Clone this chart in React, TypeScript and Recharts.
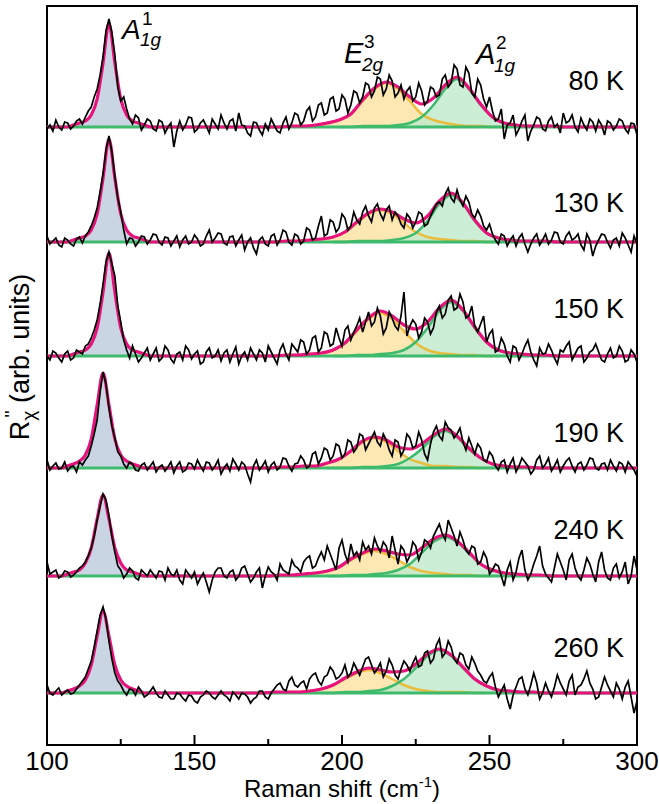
import { ComposedChart, Area, Line, XAxis, YAxis, ReferenceArea } from 'recharts';

// Raman spectra, one panel per temperature, stacked with a vertical offset
const temperatures = ['80 K', '130 K', '150 K', '190 K', '240 K', '260 K'];
const offsets = [566, 451, 337, 225, 117, 0];
const majorTicks = [100, 150, 200, 250, 300];
const allTicks = [100, 125, 150, 175, 200, 225, 250, 275, 300];

// raman shift grid of the measured spectra, 1 cm-1 steps from 99 to 301
const shifts = Array.from({ length: 203 }, (_, i) => 99 + i);

// measured intensity, relative to each panel baseline (10 points per row)
const spec80 = [
  6, -2, 2, -4, 7, 0, -3, 5, 4, -2,
  1, 6, 8, 3, 10, 16, 20, 30, 38, 52,
  70, 96, 108, 94, 72, 40, 26, 30, 18, 8,
  3, 12, 9, -3, 2, 8, 6, -2, -4, 7,
  5, -6, 0, 4, -20, -4, 6, -3, 2, 10,
  9, -5, -2, 4, 7, 1, -6, 8, 3, -2,
  12, 4, -2, 6, 8, -4, 14, 2, 1, -6,
  -9, 5, 4, -3, -8, 3, -3, 8, 2, -4,
  -6, 4, 10, -2, 4, 14, 12, 2, 6, 16,
  20, 6, 10, 22, 24, 12, 14, 28, 30, 16,
  18, 32, 28, 14, 22, 36, 34, 24, 30, 44,
  42, 30, 36, 50, 48, 32, 38, 52, 46, 30,
  34, 42, 28, 36, 40, 26, 30, 44, 36, 22,
  26, 40, 38, 30, 32, 48, 52, 40, 44, 62,
  58, 42, 40, 60, 54, 34, 30, 48, 42, 28,
  20, 30, 16, 6, 8, 18, -12, 2, 4, 12,
  -8, -2, 6, 12, -14, -4, 2, 10, 8, -2,
  -4, 6, 10, 0, 3, -6, 14, 4, 6, 12,
  0, -5, 9, 2, -3, 8, 5, -4, 7, 2,
  -8, 6, 4, -3, 1, 8, 6, -2, -6, 4,
  3, -8, -4,
];
const spec130 = [
  3, 6, -2, 1, 4, -3, -5, 4, 2, -2,
  -4, 3, 5, -1, 6, 10, 16, 24, 34, 50,
  68, 92, 106, 90, 66, 44, 30, 12, -2, 4,
  3, -4, 0, 6, 5, -2, 2, 8, 7, 0,
  -3, 5, 4, -4, 1, 6, -5, 2, 6, -2,
  0, 7, 3, -4, -2, 6, 12, 0, 4, 9,
  8, -1, -3, 5, 6, -4, 2, 7, -8, 0,
  4, -6, -12, 2, 5, -2, -4, 6, 8, -3,
  2, 12, 10, 0, -3, 8, 6, -2, 1, 14,
  12, 2, 4, 16, 26, 6, 8, 22, 20, 10,
  14, 28, 24, 12, 16, 30, 22, 18, 30, 36,
  26, 20, 34, 38, 28, 22, 32, 36, 22, 30,
  26, 18, 14, 28, 24, 14, 20, 30, 28, 16,
  18, 26, 32, 38, 40, 36, 48, 54, 44, 40,
  52, 42, 36, 46, 40, 28, 24, 32, 26, 16,
  12, 18, 8, 2, -2, 8, 6, -4, 2, 6,
  -4, 4, 8, -2, -10, -2, 4, 8, -3, 2,
  8, -2, 2, 10, 9, 0, -2, 6, 10, 2,
  4, 8, -3, -8, 8, 2, -14, -4, 2, 8,
  7, 0, -6, 2, 4, -4, 9, 4, -3, -10,
  6, -2, -20,
];
const spec150 = [
  6, 0, -4, 5, 3, -2, -6, 2, 5, -4,
  -2, 6, 4, 2, 10, 12, 18, 26, 36, 52,
  72, 94, 104, 92, 80, 50, 34, 16, 6, -2,
  10, 2, -6, -2, 3, 8, -4, 2, 8, -5,
  -2, 10, 6, -3, -7, 2, 4, -4, 10, 6,
  -3, 2, 5, -8, -6, 4, 8, -2, 0, 6,
  -5, 3, 6, -6, 2, 9, -8, 0, 4, -4,
  8, 2, -4, 6, 3, -6, 10, 4, -2, -8,
  6, 12, 2, -4, 12, 8, 4, 16, 14, 2,
  6, 18, 20, 4, 8, 24, 22, 10, 12, 28,
  18, 10, 26, 30, 16, 24, 30, 38, 24, 34,
  44, 30, 34, 48, 40, 22, 28, 44, 38, 30,
  26, 40, 64, 20, 30, 36, 32, 18, 24, 38,
  34, 22, 28, 44, 50, 38, 42, 56, 60, 46,
  48, 62, 54, 38, 40, 50, 30, 24, 32, 40,
  14, 22, 26, 4, 6, 18, 12, 0, -6, 10,
  8, -4, 2, 10, 16, 4, -4, -10, 8, 2,
  3, 12, 6, -2, -8, 6, 4, 10, 14, -4,
  2, 8, 10, -6, -2, 4, 6, 12, 4, -4,
  -6, 2, 8, -2, 0, 10, 5, -6, -4, 6,
  2, -6, -10,
];
const spec190 = [
  4, 8, -2, 2, 5, -1, 0, 6, -3, 1,
  2, -4, 6, 3, 8, 12, 22, 34, 48, 76,
  96, 84, 60, 42, 30, 16, 12, 4, 0, 6,
  4, -2, -3, 3, 5, -2, 2, 6, -4, 1,
  3, -3, 1, 6, -5, 2, 6, -4, -2, 5,
  4, -1, 8, 2, -3, 6, 5, -2, 2, 8,
  -6, 0, 4, -3, 9, 4, -2, 6, 3, -6,
  -14, 2, 8, -2, 2, 7, -4, 3, 6, -2,
  1, 10, 9, 2, -3, 4, 5, 12, 8, 0,
  2, 14, 16, 4, 10, 20, 18, 8, 12, 24,
  22, 10, 14, 28, 26, 16, 20, 34, 32, 18,
  24, 30, 36, 26, 22, 34, 28, 18, 12, 28,
  26, 12, 18, 34, 30, 20, 22, 36, 28, 14,
  8, 24, 36, 42, 32, 28, 46, 40, 38, 30,
  34, 40, 26, 18, 30, 22, 14, 24, 20, 8,
  6, 16, 12, 2, -2, 6, 8, -4, 4, 10,
  -4, 2, 10, 6, 2, -6, -2, 8, 12, 0,
  4, 10, -3, 2, 8, -4, 2, 7, 10, 2,
  -4, 4, 6, -2, 3, 10, 9, 0, -2, 4,
  5, -2, 8, 2, -3, 6, 4, -4, 6, 2,
  -2, -8, -16,
];
const spec240 = [
  10, 14, 2, 4, 6, -2, 0, 5, 4, -1,
  1, 4, 8, 10, 14, 20, 28, 40, 56, 70,
  82, 76, 60, 40, 24, 10, 6, -2, 2, 8,
  5, -2, -4, 6, 3, 0, 6, 2, -2, 5,
  4, -4, 8, 2, 0, 6, -4, -8, 6, 2,
  -2, 4, -8, -2, 3, -6, -16, -4, 4, 8,
  8, 0, -2, 4, 6, -4, 0, 8, 10, 2,
  -6, -2, 4, 8, -12, 0, 9, 4, 2, -4,
  12, 6, 4, 2, 16, 10, 8, 4, 14, 18,
  20, 8, 10, 18, 24, 16, 30, 22, 14, 6,
  28, 36, 22, 14, 32, 20, 24, 16, 34, 26,
  30, 22, 38, 30, 24, 34, 30, 18, 40, 26,
  12, 30, 26, 14, 20, 34, 30, 16, 24, 36,
  34, 28, 40, 46, 52, 42, 36, 56, 48, 40,
  30, 44, 36, 26, 22, 30, 28, 12, 14, 24,
  18, 2, 6, 12, 10, 0, -10, 6, 14, -4,
  4, 18, 26, 6, -4, 2, 12, 20, 30, 10,
  2, -2, -6, 8, 22, 14, 6, -4, 16, 22,
  8, 0, -4, 6, 18, 12, 2, -6, 14, 24,
  6, -2, -4, 8, 12, -2, 4, 14, -8, 0,
  20, 6, -22,
];
const spec260 = [
  4, 8, 0, -2, 2, 5, -2, 1, 3, -1,
  0, 4, 8, 12, 16, 24, 32, 46, 62, 78,
  86, 74, 52, 34, 20, 12, 8, 2, -2, 4,
  3, -2, 6, 2, -4, -2, 2, 6, 0, -4,
  -5, 2, -2, -6, -6, 0, -1, -5, -8, -2,
  -3, -8, -10, -4, -2, 2, 0, -4, -6, -2,
  2, -2, -4, -8, 1, -2, -6, 0, -1, -4,
  -10, -6, -4, 2, 2, -4, -6, 0, 4, 8,
  10, 4, 2, 12, 16, 8, 6, 10, 12, 4,
  14, 18, 20, 12, 8, 16, 18, 26, 22, 14,
  16, 20, 28, 16, 20, 30, 24, 18, 26, 34,
  36, 28, 20, 24, 30, 16, 22, 34, 28, 18,
  14, 24, 32, 28, 22, 30, 36, 26, 28, 40,
  42, 30, 34, 48, 54, 36, 40, 52, 46, 34,
  30, 40, 38, 28, 24, 36, 30, 22, 18, 12,
  10, 16, 20, 6, -4, 2, 8, -6, -16, -2,
  6, 14, 16, 4, -2, 8, 20, 10, -6, 0,
  10, 2, -4, 6, 18, 10, 4, -2, 12, 18,
  -2, 6, 8, 14, 22, 10, 4, -6, -4, 6,
  16, 8, 2, -4, 10, 4, -6, 6, 12, -4,
  -20, -8, -30,
];
const spectra = [spec80, spec130, spec150, spec190, spec240, spec260];

// fitted A1g(1) mode, sampled every 2 cm-1 from center-12 to center+12
const a1g1Centers = [121, 121, 121, 119, 119, 119];
const a1g1Fit = [
  [2, 4, 6, 12, 28, 64, 104, 64, 28, 12, 6, 4, 2],
  [2, 4, 6, 12, 28, 64, 103, 64, 28, 12, 6, 4, 2],
  [2, 4, 6, 12, 28, 64, 103, 64, 28, 12, 6, 4, 2],
  [2, 4, 7, 13, 29, 63, 95, 63, 29, 13, 7, 4, 2],
  [2, 4, 6, 13, 28, 57, 81, 57, 28, 13, 6, 4, 2],
  [2, 4, 7, 13, 28, 57, 82, 57, 28, 13, 7, 4, 2],
];

// fitted E2g(3) mode, sampled every 4 cm-1 from center-40 to center+40
const e2gCenters = [215, 213, 213, 211, 211, 209];
const e2gFit = [
  [0, 0, 1, 1, 2, 4, 7, 13, 26, 38, 44, 38, 26, 13, 7, 4, 2, 1, 1, 0, 0],
  [0, 0, 1, 1, 2, 3, 5, 10, 19, 28, 32, 28, 19, 10, 5, 3, 2, 1, 1, 0, 0],
  [0, 0, 1, 1, 2, 3, 6, 13, 25, 37, 43, 37, 25, 13, 6, 3, 2, 1, 1, 0, 0],
  [0, 0, 1, 1, 2, 2, 5, 9, 17, 26, 30, 26, 17, 9, 5, 2, 2, 1, 1, 0, 0],
  [0, 0, 1, 1, 2, 3, 5, 9, 16, 22, 25, 22, 16, 9, 5, 3, 2, 1, 1, 0, 0],
  [0, 0, 1, 1, 1, 2, 4, 8, 14, 20, 23, 20, 14, 8, 4, 2, 1, 1, 1, 0, 0],
];

// fitted A1g(2) mode, sampled every 4 cm-1 from center-40 to center+40
const a1g2Centers = [239, 237, 237, 235, 235, 233];
const a1g2Fit = [
  [0, 0, 1, 1, 1, 2, 4, 10, 22, 38, 48, 38, 22, 10, 4, 2, 1, 1, 1, 0, 0],
  [0, 0, 1, 1, 1, 2, 4, 9, 21, 38, 47, 38, 21, 9, 4, 2, 1, 1, 1, 0, 0],
  [0, 0, 1, 1, 2, 3, 6, 14, 28, 45, 54, 45, 28, 14, 6, 3, 2, 1, 1, 0, 0],
  [0, 0, 0, 1, 1, 2, 4, 10, 19, 31, 37, 31, 19, 10, 4, 2, 1, 1, 0, 0, 0],
  [0, 0, 1, 1, 2, 3, 6, 12, 23, 34, 39, 34, 23, 12, 6, 3, 2, 1, 1, 0, 0],
  [0, 0, 1, 1, 2, 3, 7, 14, 25, 37, 43, 37, 25, 14, 7, 3, 2, 1, 1, 0, 0],
];

const FONT = '"Liberation Sans", Arial, Helvetica, sans-serif';
const panels = temperatures.map((_, i) => i);

const sampleAt = (vals: number[], center: number, half: number, step: number, x: number) => {
  const d = x - (center - half);
  if (d < 0 || d > 2 * half || d % step !== 0) return undefined;
  return vals[d / step];
};

const rows = shifts.map((x, i) => {
  const row: any = { x };
  panels.forEach((p) => {
    const off = offsets[p];
    row[`d${p}`] = off + spectra[p][i];
    row[`z${p}`] = off;
    const b = sampleAt(a1g1Fit[p], a1g1Centers[p], 12, 2, x);
    const e = sampleAt(e2gFit[p], e2gCenters[p], 40, 4, x);
    const a = sampleAt(a1g2Fit[p], a1g2Centers[p], 40, 4, x);
    if (b !== undefined) row[`b${p}`] = [off, off + b];
    if (e !== undefined) row[`e${p}`] = [off, off + e];
    if (a !== undefined) row[`a${p}`] = [off, off + a];
    // total fit only where the components are sampled
    const inBlue = Math.abs(x - a1g1Centers[p]) <= 12;
    const lo = e2gCenters[p] - 40;
    const hi = a1g2Centers[p] + 40;
    const inPair = x >= lo && x <= hi;
    const skip = (inBlue && b === undefined) || (inPair && (x - lo) % 4 !== 0) || (!inBlue && !inPair && x % 2 === 0);
    if (!skip) row[`f${p}`] = off + (b ?? 0) + (e ?? 0) + (a ?? 0);
  });
  return row;
});

const AxisTick = (props: any) => {
  const { x, y, payload } = props;
  const major = majorTicks.includes(payload.value);
  return (
    <g>
      <line x1={x} x2={x} y1={y} y2={y - (major ? 10 : 6)} stroke="#000" strokeWidth={2} />
      {major && (
        <text x={x} y={y + 25} textAnchor="middle" fontSize={26} fontFamily={FONT} fill="#000">
          {payload.value}
        </text>
      )}
    </g>
  );
};

const tempLabelY = [90, 212, 318, 442, 539, 657];

export default function App() {
  return (
    <div style={{ position: 'absolute', left: 0, top: 0, width: 659, height: 804, background: '#fff' }}>
      <ComposedChart
        width={659}
        height={804}
        data={rows}
        margin={{ top: 6, right: 22, bottom: 0, left: 47 }}
      >
        <XAxis
          dataKey="x"
          type="number"
          domain={[100, 300]}
          allowDataOverflow
          ticks={allTicks}
          interval={0}
          tickSize={0}
          tickMargin={0}
          tickLine={false}
          tick={<AxisTick />}
          axisLine={{ stroke: '#000', strokeWidth: 2 }}
          height={59}
        />
        <YAxis type="number" domain={[-52, 687]} allowDataOverflow hide />

        {panels.map((p) => (
          <Area key={`ba${p}`} dataKey={`b${p}`} type="monotone" connectNulls stroke="none" fill="#c9d5e3" fillOpacity={1} isAnimationActive={false} />
        ))}
        {panels.map((p) => (
          <Area key={`ea${p}`} dataKey={`e${p}`} type="monotone" connectNulls stroke="none" fill="#fde8b4" fillOpacity={1} isAnimationActive={false} />
        ))}
        {panels.map((p) => (
          <Area key={`aa${p}`} dataKey={`a${p}`} type="monotone" connectNulls stroke="none" fill="#bfe8cc" fillOpacity={0.8} isAnimationActive={false} />
        ))}
        {panels.map((p) => (
          <Line key={`bl${p}`} dataKey={(r: any) => (r[`b${p}`] ? r[`b${p}`][1] : undefined)} type="monotone" connectNulls stroke="#6f8fb3" strokeWidth={1.5} dot={false} isAnimationActive={false} />
        ))}
        {panels.map((p) => (
          <Line key={`el${p}`} dataKey={(r: any) => (r[`e${p}`] ? r[`e${p}`][1] : undefined)} type="monotone" connectNulls stroke="#eeb422" strokeWidth={2.5} strokeOpacity={0.85} dot={false} isAnimationActive={false} />
        ))}
        {panels.map((p) => (
          <Line key={`al${p}`} dataKey={(r: any) => (r[`a${p}`] ? r[`a${p}`][1] : undefined)} type="monotone" connectNulls stroke="#3dba6c" strokeWidth={2.5} dot={false} isAnimationActive={false} />
        ))}
        {panels.map((p) => (
          <Line key={`zl${p}`} dataKey={`z${p}`} type="linear" stroke="#3dba6c" strokeWidth={3} dot={false} isAnimationActive={false} />
        ))}
        {panels.map((p) => (
          <Line key={`fl${p}`} dataKey={`f${p}`} type="monotone" connectNulls stroke="#e8127c" strokeWidth={3.2} dot={false} isAnimationActive={false} />
        ))}
        {panels.map((p) => (
          <Line key={`dl${p}`} dataKey={`d${p}`} type="linear" stroke="#000" strokeWidth={1.7} dot={false} isAnimationActive={false} />
        ))}

        <ReferenceArea x1={100} x2={300} y1={-52} y2={687} fill="none" stroke="#000" strokeWidth={2} ifOverflow="visible" />
      </ComposedChart>

      <svg
        width={659}
        height={804}
        style={{ position: 'absolute', left: 0, top: 0, pointerEvents: 'none' }}
        fontFamily={FONT}
      >
        {temperatures.map((t, i) => (
          <text key={t} x={624} y={tempLabelY[i]} textAnchor="end" fontSize={27} fill="#000">
            {t}
          </text>
        ))}

        <text x={122} y={39} fontSize={28} fontStyle="italic">A</text>
        <text x={142} y={25} fontSize={19}>1</text>
        <text x={140} y={46} fontSize={19} fontStyle="italic">1g</text>

        <text x={344} y={63} fontSize={29} fontStyle="italic">E</text>
        <text x={364} y={48} fontSize={19}>3</text>
        <text x={362} y={71} fontSize={19} fontStyle="italic">2g</text>

        <text x={476} y={64} fontSize={29} fontStyle="italic">A</text>
        <text x={496} y={49} fontSize={19}>2</text>
        <text x={494} y={72} fontSize={19} fontStyle="italic">1g</text>

        <text x={342} y={797} textAnchor="middle" fontSize={24}>
          Raman shift (cm
          <tspan dy={-10} fontSize={15}>-1</tspan>
          <tspan dy={10}>)</tspan>
        </text>

        <text transform="translate(29,357) rotate(-90)" textAnchor="middle" fontSize={27}>
          R
          <tspan dy={6} fontSize={19}>χ</tspan>
          <tspan dx={-7} dy={-17} fontSize={19}>''</tspan>
          <tspan dy={11}> (arb. units)</tspan>
        </text>
      </svg>
    </div>
  );
}
